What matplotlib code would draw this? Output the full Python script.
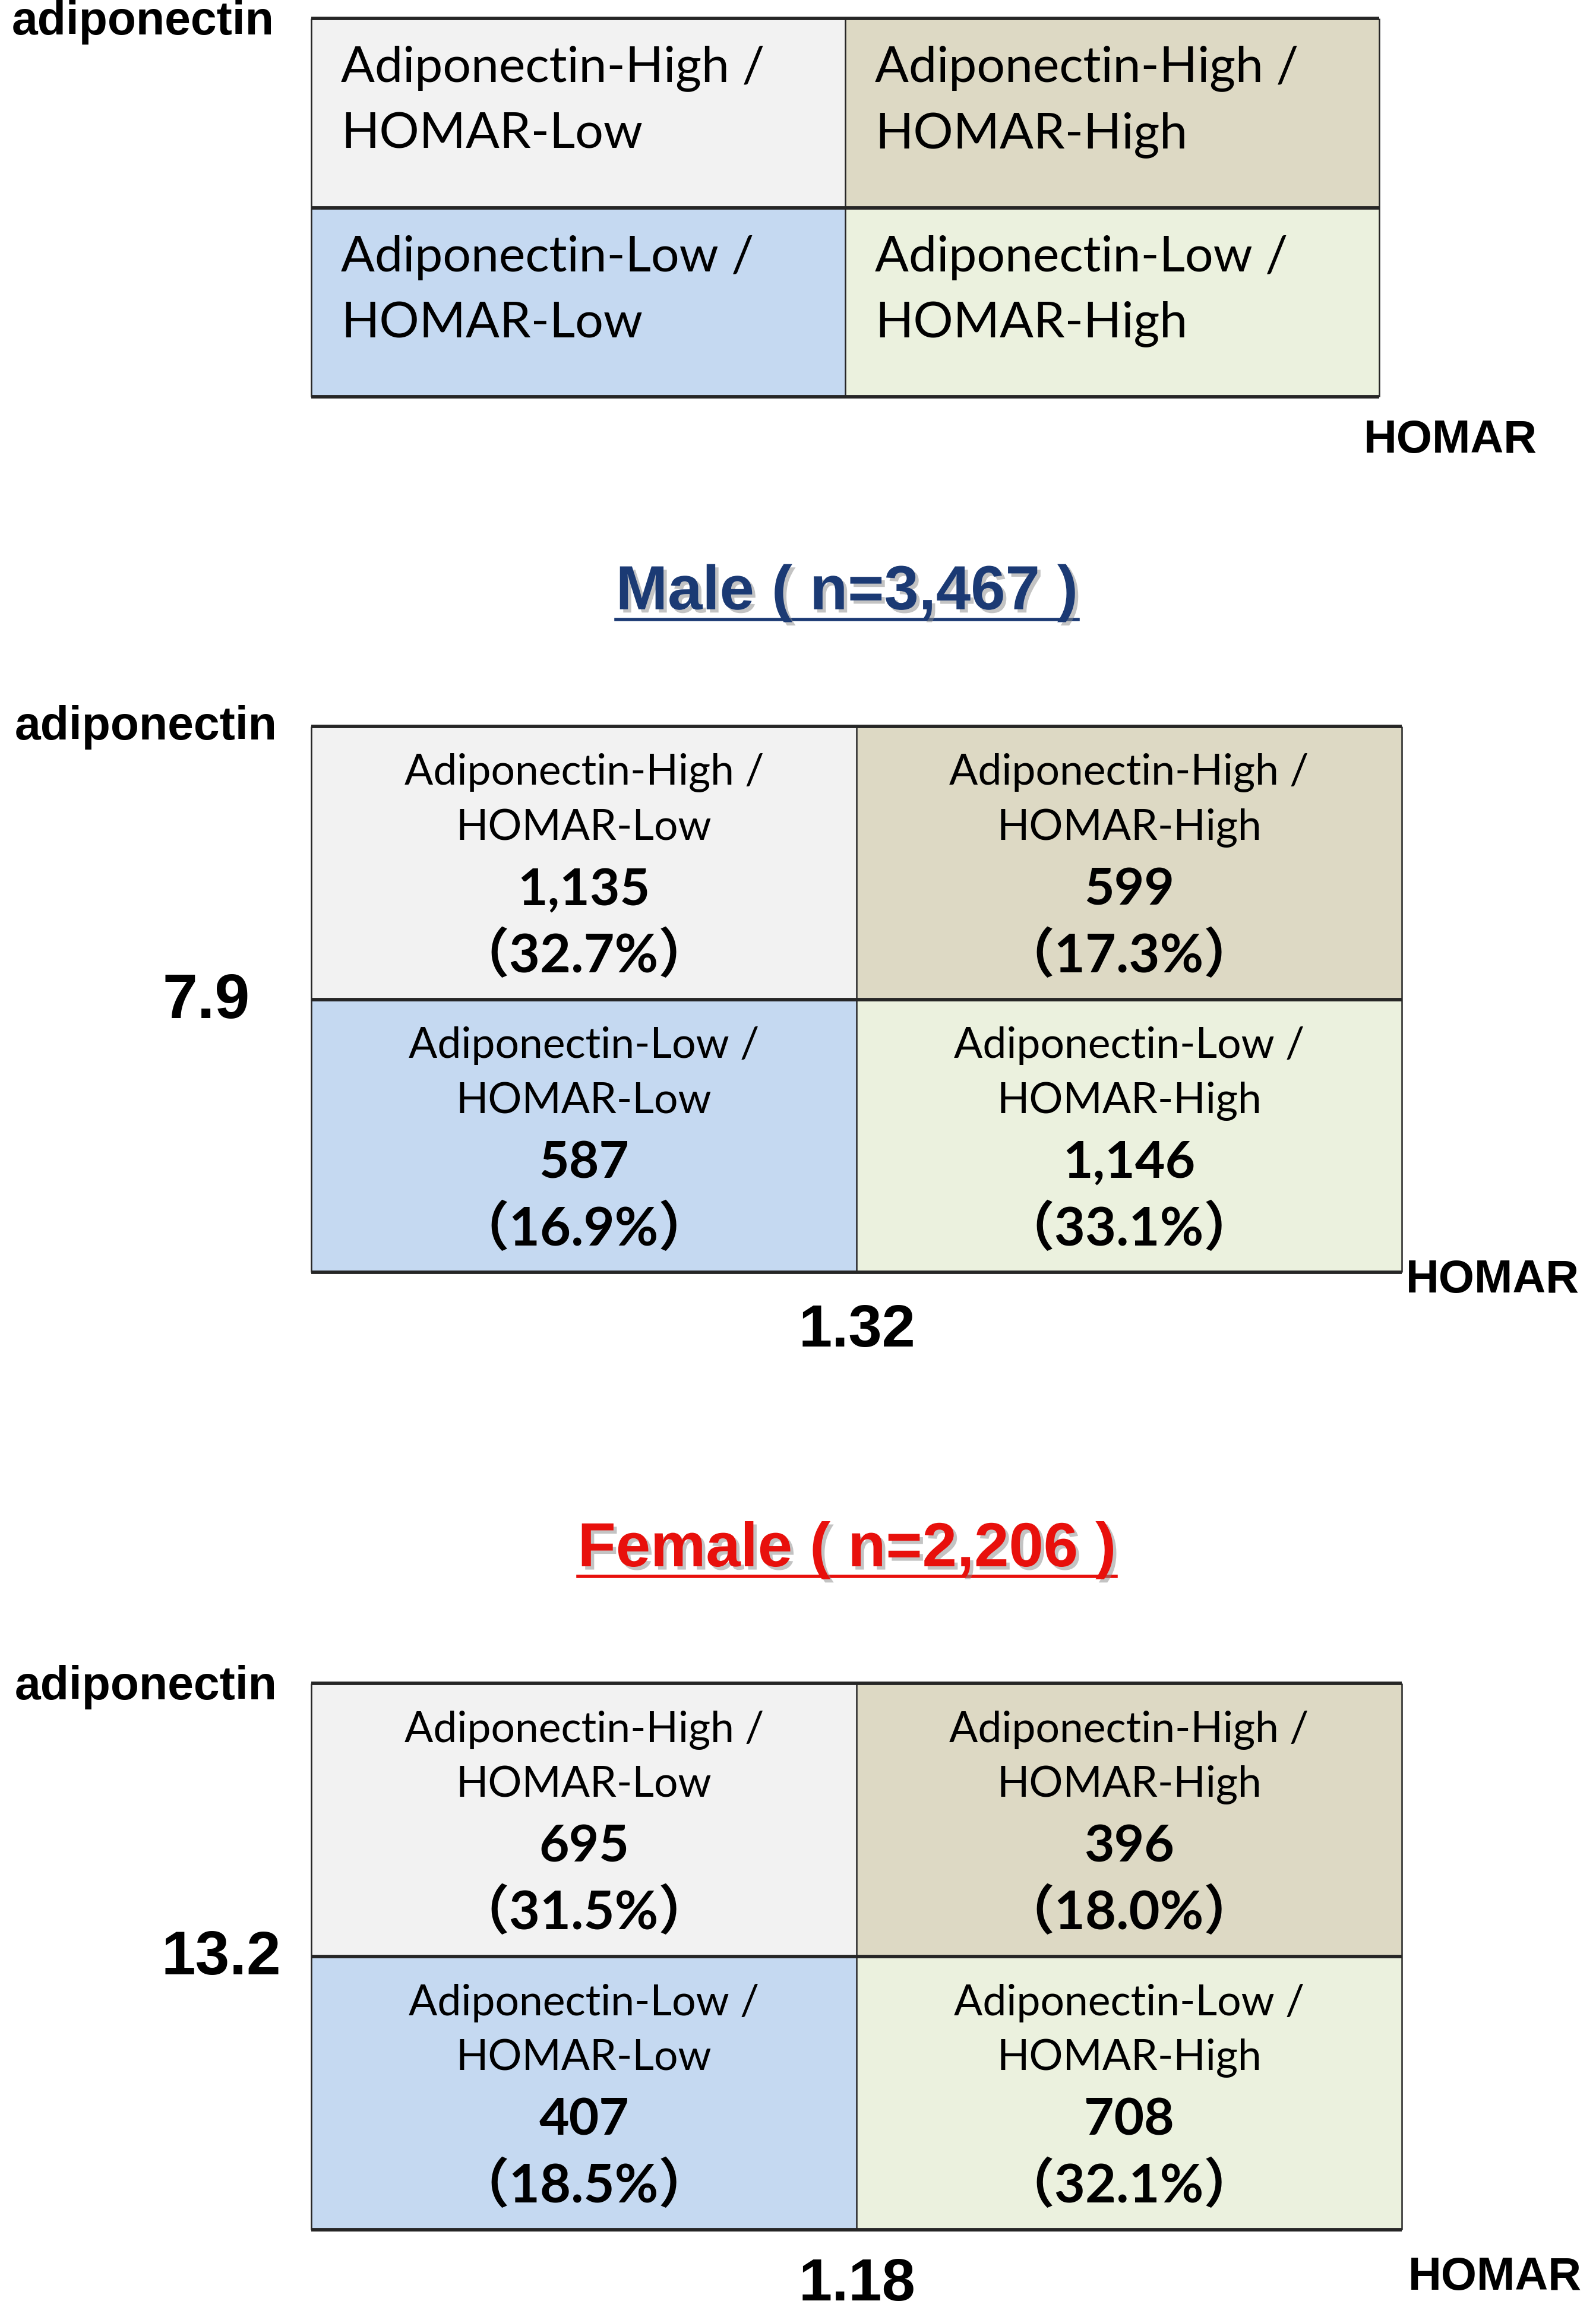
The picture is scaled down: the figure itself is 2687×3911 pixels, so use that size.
import matplotlib
matplotlib.use("Agg")
import matplotlib.pyplot as plt
from matplotlib.patches import Rectangle
from matplotlib.lines import Line2D
import matplotlib.patheffects as pe

# quadrant names, row 0 = adiponectin high, col 0 = HOMAR low
quad_labels = [["Adiponectin-High /\nHOMAR-Low", "Adiponectin-High /\nHOMAR-High"],
               ["Adiponectin-Low /\nHOMAR-Low", "Adiponectin-Low /\nHOMAR-High"]]
quad_colors = [["#F2F2F2", "#DDD9C4"],
               ["#C5D9F1", "#EBF1DE"]]

male_n = "3,467"
male_counts = [[1135, 599], [587, 1146]]
male_pcts = [[32.7, 17.3], [16.9, 33.1]]
male_adipo_cut = "7.9"
male_homar_cut = "1.32"

female_n = "2,206"
female_counts = [[695, 396], [407, 708]]
female_pcts = [[31.5, 18.0], [18.5, 32.1]]
female_adipo_cut = "13.2"
female_homar_cut = "1.18"

# layout is measured on a 1076 x 1566 grid of the reference
W, H = 1076, 1566
S = 2687 / W * 0.72  # grid px -> points

CELL_FONT = ["Lato", "Noto Sans CJK JP", "DejaVu Sans"]
LABEL_FONT = ["Liberation Sans", "DejaVu Sans"]


def fx(x):
    return x / W


def fy(y):
    return 1 - y / H


fig = plt.figure(figsize=(26.87, 39.12), dpi=100)
fig.patch.set_facecolor("white")


def make_grid(x0, y0, x1, y1):
    ax = fig.add_axes([fx(x0), fy(y1), (x1 - x0) / W, (y1 - y0) / H])
    ax.set_xlim(0, 2)
    ax.set_ylim(2, 0)
    ax.axis("off")
    for r in range(2):
        for c in range(2):
            ax.add_patch(Rectangle((c, r), 1, 1, facecolor=quad_colors[r][c],
                                   edgecolor="none"))
    for y in (0, 1, 2):
        ax.plot([0, 2], [y, y], color="#262626", lw=4.2, solid_capstyle="butt",
                clip_on=False)
    for x in (0, 1, 2):
        ax.plot([x, x], [0, 2], color="#262626", lw=1.8, solid_capstyle="butt",
                clip_on=False)
    return ax


def label(x, y, s, size, ha="left", va="center", **kw):
    fig.text(fx(x), fy(y), s, fontsize=size * S, ha=ha, va=va,
             family=LABEL_FONT, fontweight="bold", **kw)


def title(y, s, color):
    t = fig.text(fx(571), fy(y), s, fontsize=42 * S, ha="center", va="center",
                 family=LABEL_FONT, fontweight="bold", color=color,
                 path_effects=[pe.SimplePatchShadow(offset=(4, -4), shadow_rgbFace="#888888", alpha=0.5),
                               pe.Normal()])
    fig.canvas.draw()
    bb = t.get_window_extent(fig.canvas.get_renderer()).transformed(fig.transFigure.inverted())
    uy = fy(y + 18)
    fig.add_artist(Line2D([bb.x0, bb.x1], [uy, uy], color=color, lw=4))


# ---- legend panel ----
ax0 = make_grid(210, 13, 930, 268)
for r in range(2):
    for c in range(2):
        l1, l2 = quad_labels[r][c].split("\n")
        ax0.text(c + 20 / 360, r + 0.26, l1, fontsize=33.7 * S, family=CELL_FONT,
                 ha="left", va="center")
        ax0.text(c + 20 / 360, r + 0.61, l2, fontsize=33.7 * S, family=CELL_FONT,
                 ha="left", va="center")
label(8, 15, "adiponectin", 31.5)
label(978, 297, "HOMAR", 31, ha="center")


def result_panel(y0, counts, pcts):
    ax = make_grid(210, y0, 945, y0 + 368)
    for r in range(2):
        for c in range(2):
            l1, l2 = quad_labels[r][c].split("\n")
            ax.text(c + 0.5, r + 0.168, l1, fontsize=28.6 * S, family=CELL_FONT,
                    ha="center", va="center")
            ax.text(c + 0.5, r + 0.37, l2, fontsize=28.6 * S, family=CELL_FONT,
                    ha="center", va="center")
            ax.text(c + 0.5, r + 0.598, f"{counts[r][c]:,}", fontsize=35 * S,
                    family=CELL_FONT, fontweight="bold", ha="center", va="center")
            ax.text(c + 0.5, r + 0.837, f"\uff08{pcts[r][c]:.1f}%\uff09", fontsize=36 * S,
                    family=CELL_FONT, fontweight="bold", ha="center", va="center")
    return ax


# ---- male ----
title(400, f"Male ( n={male_n} )", "#1B3A74")
result_panel(490, male_counts, male_pcts)
label(10, 490, "adiponectin", 31.5)
label(139, 675, male_adipo_cut, 42.5, ha="center")
label(948, 863, "HOMAR", 31)
label(578, 897, male_homar_cut, 40.5, ha="center")

# ---- female ----
title(1045, f"Female ( n={female_n} )", "#E8100C")
result_panel(1135, female_counts, female_pcts)
label(10, 1137, "adiponectin", 31.5)
label(149, 1320, female_adipo_cut, 41.5, ha="center")
label(1008, 1535, "HOMAR", 31, ha="center")
label(578, 1540, female_homar_cut, 40.5, ha="center")

fig.savefig("out.png", dpi=100)
